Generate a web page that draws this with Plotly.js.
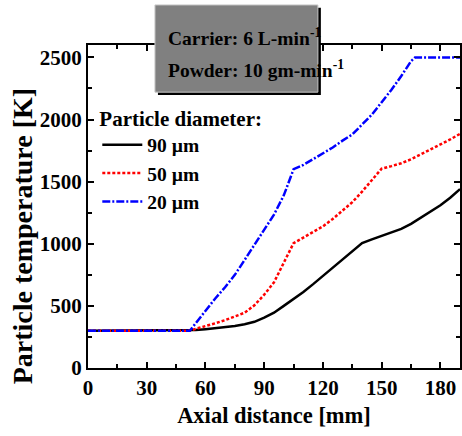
<!DOCTYPE html>
<html>
<head>
<meta charset="utf-8">
<script src="https://cdn.plot.ly/plotly-3.0.1.min.js"></script>
<style>html,body{margin:0;padding:0;background:#fff;}#chart{width:462px;height:436px;}</style>
</head>
<body>
<div id="chart"></div>
<script>
// Data
const xBlack = [0, 50, 55, 60, 65, 70, 75, 80, 85, 90, 95, 100, 105, 110, 115, 120, 125, 130, 135, 140, 145, 150, 155, 160, 165, 170, 175, 180, 185, 190];
const yBlack = [300, 300, 305, 312, 320, 328, 338, 352, 372, 405, 445, 500, 555, 612, 675, 740, 810, 875, 940, 1005, 1035, 1065, 1090, 1120, 1160, 1210, 1260, 1310, 1370, 1440];

const xRed = [0, 52, 55, 60, 65, 70, 75, 80, 85, 90, 95, 100, 105, 110, 115, 120, 125, 130, 135, 140, 145, 150, 155, 160, 165, 170, 175, 180, 185, 190];
const yRed = [300, 300, 315, 335, 360, 385, 415, 445, 505, 590, 690, 850, 1005, 1050, 1095, 1140, 1200, 1265, 1335, 1420, 1510, 1605, 1625, 1648, 1680, 1718, 1758, 1800, 1840, 1885];

const xBlue = [0, 52, 55, 60, 65, 70, 75, 80, 85, 90, 95, 100, 105, 110, 115, 120, 125, 130, 135, 140, 145, 150, 155, 160, 165, 167, 175, 190];
const yBlue = [300, 300, 360, 460, 560, 650, 750, 870, 990, 1110, 1235, 1390, 1600, 1635, 1680, 1725, 1775, 1830, 1880, 1960, 2040, 2140, 2240, 2350, 2470, 2500, 2500, 2500];

const seriesNames = ['90 \u00b5m', '50 \u00b5m', '20 \u00b5m'];
const xTickVals = [0, 30, 60, 90, 120, 150, 180];
const yTickVals = [0, 500, 1000, 1500, 2000, 2500];

const FONT = 'Liberation Serif, Times New Roman, serif';

const traces = [
  {x: xBlack, y: yBlack, name: seriesNames[0], mode: 'lines', line: {color: '#000000', width: 2.5}},
  {x: xRed, y: yRed, name: seriesNames[1], mode: 'lines', line: {color: '#ff0000', width: 2.5, dash: '3px,2px'}},
  {x: xBlue, y: yBlue, name: seriesNames[2], mode: 'lines', line: {color: '#0000ff', width: 2.5, dash: '8px,2px,2px,2px'}}
];

const axisCommon = {
  showgrid: false, zeroline: false, showline: true, linecolor: '#000', linewidth: 2,
  mirror: 'ticks', ticks: 'inside', ticklen: 6, tickwidth: 2, tickcolor: '#000',
  tickfont: {family: FONT, size: 21, color: '#000', weight: 'bold'}
};

const layout = {
  width: 462, height: 436,
  margin: {l: 88, r: 2, t: 45, b: 68},
  paper_bgcolor: '#fff', plot_bgcolor: '#fff',
  font: {family: FONT, color: '#000'},
  showlegend: true,
  legend: {
    x: 0.025, y: 0.835, xanchor: 'left', yanchor: 'top',
    bgcolor: 'rgba(0,0,0,0)', borderwidth: 0,
    font: {family: FONT, size: 19.5, color: '#000', weight: 'bold'},
    title: {text: 'Particle diameter:', font: {family: FONT, size: 21, color: '#000', weight: 'bold'}},
    itemwidth: 40, tracegroupgap: 0
  },
  xaxis: Object.assign({}, axisCommon, {
    range: [0, 190], tickvals: xTickVals,
    minor: {ticks: 'inside', dtick: 15, tick0: 0, ticklen: 4, tickwidth: 2, tickcolor: '#000'},
    title: {text: 'Axial distance [mm]', font: {family: FONT, size: 22.5, color: '#000', weight: 'bold'}, standoff: 8}
  }),
  yaxis: Object.assign({}, axisCommon, {
    range: [0, 2600], tickvals: yTickVals,
    minor: {ticks: 'inside', dtick: 250, tick0: 0, ticklen: 4, tickwidth: 2, tickcolor: '#000'}
  }),
  shapes: [
    {type: 'rect', xref: 'paper', yref: 'paper', x0: 0.188, x1: 0.626, y0: 0.845, y1: 1.115,
     fillcolor: '#000', line: {width: 0}, layer: 'above'},
    {type: 'rect', xref: 'paper', yref: 'paper', x0: 0.180, x1: 0.618, y0: 0.854, y1: 1.124,
     fillcolor: '#808080', line: {color: '#c8c8c8', width: 1}, layer: 'above'}
  ],
  annotations: [
    {xref: 'paper', yref: 'paper', x: -0.177, y: 0.408, xanchor: 'center', yanchor: 'middle', showarrow: false,
     textangle: -90, text: 'Particle temperature [K]', font: {family: FONT, size: 28, color: '#000', weight: 'bold'}},
    {xref: 'paper', yref: 'paper', x: 0.21, y: 1.025, xanchor: 'left', yanchor: 'middle', showarrow: false,
     text: 'Carrier: 6 L-min<sup>-1</sup>', font: {family: FONT, size: 19.5, color: '#000', weight: 'bold'}},
    {xref: 'paper', yref: 'paper', x: 0.21, y: 0.925, xanchor: 'left', yanchor: 'middle', showarrow: false,
     text: 'Powder: 10 gm-min<sup>-1</sup>', font: {family: FONT, size: 19.5, color: '#000', weight: 'bold'}}
  ]
};

Plotly.newPlot('chart', traces, layout, {displayModeBar: false, staticPlot: true});
</script>
</body>
</html>
